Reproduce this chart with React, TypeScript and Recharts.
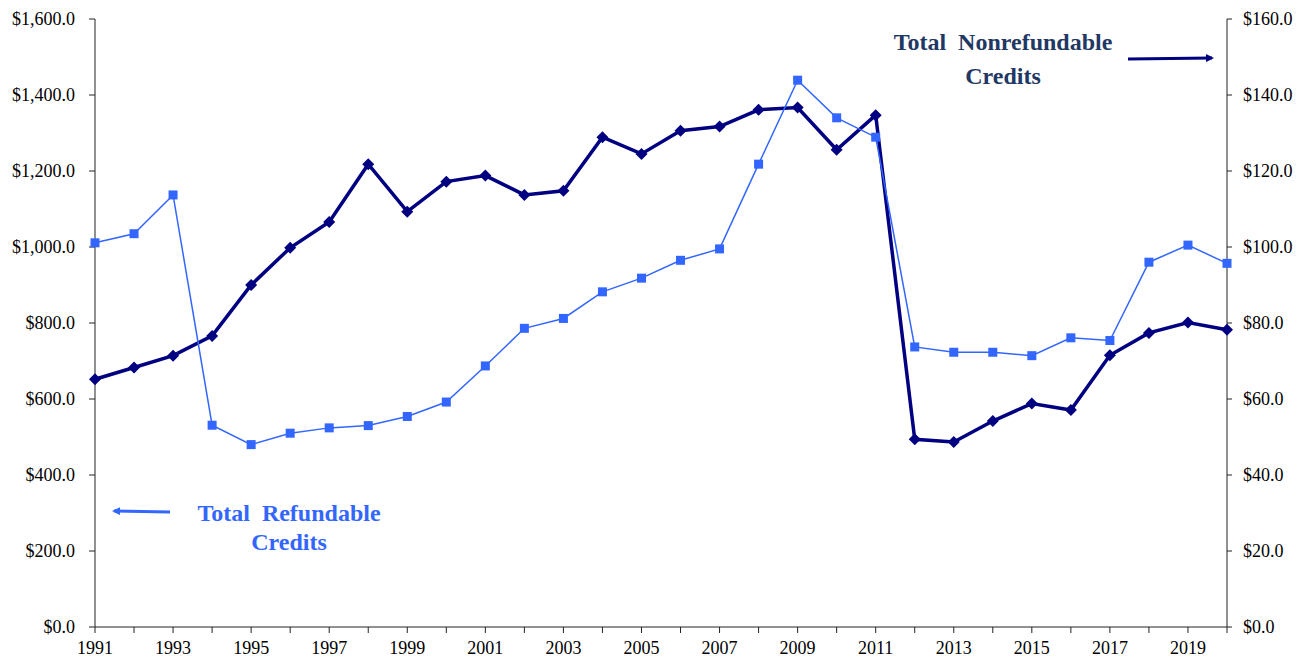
import { Line, LineChart, XAxis, YAxis } from "recharts";

const years = [
  "1991", "1992", "1993", "1994", "1995", "1996", "1997", "1998", "1999", "2000",
  "2001", "2002", "2003", "2004", "2005", "2006", "2007", "2008", "2009", "2010",
  "2011", "2012", "2013", "2014", "2015", "2016", "2017", "2018", "2019", "2020",
];

// Total Refundable Credits (left axis)
const refundable = [
  1011, 1035, 1137, 531, 480, 510, 524, 530, 554, 592,
  687, 786, 812, 882, 918, 965, 995, 1218, 1439, 1340,
  1289, 737, 723, 723, 714, 761, 754, 960, 1005, 957,
];

// Total Nonrefundable Credits (right axis)
const nonrefundable = [
  65.2, 68.3, 71.4, 76.6, 90.0, 99.8, 106.6, 121.8, 109.3, 117.2,
  118.8, 113.7, 114.8, 128.9, 124.5, 130.6, 131.7, 136.1, 136.7, 125.6,
  134.7, 49.4, 48.7, 54.2, 58.8, 57.1, 71.5, 77.4, 80.1, 78.2,
];

const leftTicks = [0, 200, 400, 600, 800, 1000, 1200, 1400, 1600];
const rightTicks = [0, 20, 40, 60, 80, 100, 120, 140, 160];

const data = years.map((year, i) => ({
  year,
  refundable: refundable[i],
  nonrefundable: nonrefundable[i],
}));

const FONT = '"Liberation Serif", "Times New Roman", serif';
const LIGHT = "#3366FF";
const DARK = "#000080";
const AXIS = "#222222";

const money = (v: number) =>
  "$" + v.toLocaleString("en-US", { minimumFractionDigits: 1, maximumFractionDigits: 1 });

const SquareDot = (props: any) => {
  const { cx, cy, index } = props;
  return <rect key={"s" + index} x={cx - 4.5} y={cy - 4.5} width={9} height={9} fill={LIGHT} />;
};

const DiamondDot = (props: any) => {
  const { cx, cy, index } = props;
  return (
    <polygon
      key={"d" + index}
      points={`${cx},${cy - 6} ${cx + 6},${cy} ${cx},${cy + 6} ${cx - 6},${cy}`}
      fill={DARK}
    />
  );
};

const tickStyle = { fontSize: 18, fill: "#000", fontFamily: FONT };

export default function App() {
  return (
    <div style={{ position: "absolute", left: 0, top: 0, width: 1300, height: 658, background: "#fff" }}>
      <LineChart width={1300} height={658} data={data} margin={{ top: 19, right: 0, left: 0, bottom: 0 }}>
        <XAxis
          dataKey="year"
          interval={0}
          height={31}
          stroke={AXIS}
          tickSize={6}
          tickMargin={8}
          tick={tickStyle}
          tickFormatter={(v: string) => (Number(v) % 2 === 1 ? v : "")}
        />
        <YAxis
          yAxisId="left"
          width={95}
          domain={[0, 1600]}
          ticks={leftTicks}
          stroke={AXIS}
          tickSize={6}
          tickMargin={14}
          tick={tickStyle}
          tickFormatter={money}
          interval={0}
        />
        <YAxis
          yAxisId="right"
          orientation="right"
          width={73}
          domain={[0, 160]}
          ticks={rightTicks}
          stroke={AXIS}
          tickSize={5}
          tickMargin={11}
          tick={tickStyle}
          tickFormatter={money}
          interval={0}
        />
        <Line
          yAxisId="right"
          dataKey="nonrefundable"
          stroke={DARK}
          strokeWidth={3.5}
          dot={DiamondDot}
          isAnimationActive={false}
        />
        <Line
          yAxisId="left"
          dataKey="refundable"
          stroke={LIGHT}
          strokeWidth={1.5}
          dot={SquareDot}
          isAnimationActive={false}
        />
      </LineChart>
      <svg
        width={1300}
        height={658}
        style={{ position: "absolute", left: 0, top: 0, pointerEvents: "none" }}
      >
        <defs>
          <marker id="arrDark" markerWidth="8" markerHeight="8" refX="6" refY="4" orient="auto" markerUnits="userSpaceOnUse">
            <path d="M0,0 L8,4 L0,8 Z" fill={DARK} />
          </marker>
          <marker id="arrLight" markerWidth="8" markerHeight="8" refX="6" refY="4" orient="auto" markerUnits="userSpaceOnUse">
            <path d="M0,0 L8,4 L0,8 Z" fill={LIGHT} />
          </marker>
        </defs>
        <g fontFamily={FONT} fontWeight="bold" fontSize={24} textAnchor="middle">
          <text x={1003} y={50} fill="#1F3864" xmlSpace="preserve">Total  Nonrefundable</text>
          <text x={1003} y={84} fill="#1F3864">Credits</text>
          <text x={289} y={521} fill={LIGHT} xmlSpace="preserve">Total  Refundable</text>
          <text x={289} y={550} fill={LIGHT}>Credits</text>
        </g>
        <line x1={1128} y1={59} x2={1212} y2={58} stroke={DARK} strokeWidth={3} markerEnd="url(#arrDark)" />
        <line x1={170} y1={512} x2={114} y2={511} stroke={LIGHT} strokeWidth={3} markerEnd="url(#arrLight)" />
      </svg>
    </div>
  );
}
